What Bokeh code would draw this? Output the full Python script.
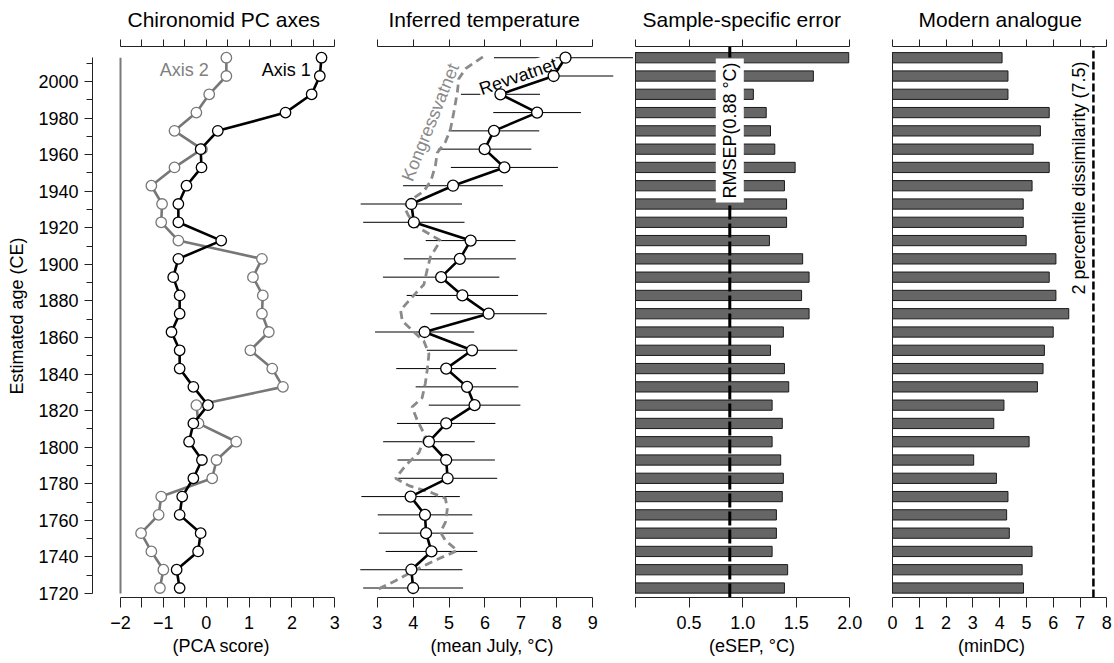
import math
from bokeh.plotting import figure
from bokeh.models import Range1d, LinearAxis, FixedTicker, CustomJSTickFormatter, Grid
from bokeh.layouts import row
from bokeh.embed import file_html
from bokeh.resources import INLINE
from bokeh.core.properties import value

FONT = "Liberation Sans"

# ---------------- data ----------------
years = [2013, 2003, 1993, 1983, 1973, 1963, 1953, 1943, 1933, 1923,
         1913, 1903, 1893, 1883, 1873, 1863, 1853, 1843, 1833, 1823,
         1813, 1803, 1793, 1783, 1773, 1763, 1753, 1743, 1733, 1723]
pc_axis1 = [2.69, 2.65, 2.46, 1.85, 0.27, -0.13, -0.11, -0.46, -0.65, -0.65,
            0.35, -0.65, -0.77, -0.62, -0.62, -0.81, -0.62, -0.62, -0.30, 0.04,
            -0.30, -0.40, -0.10, -0.30, -0.56, -0.62, -0.13, -0.19, -0.69, -0.62]
pc_axis2 = [0.47, 0.47, 0.07, -0.23, -0.74, -0.10, -0.74, -1.28, -1.03, -1.05,
            -0.65, 1.30, 1.09, 1.32, 1.30, 1.46, 1.03, 1.54, 1.79, -0.23,
            -0.18, 0.70, 0.24, 0.14, -1.05, -1.11, -1.52, -1.28, -1.00, -1.08]
rev_temp = [8.24, 7.91, 6.43, 7.45, 6.25, 5.99, 6.54, 5.11, 3.95, 4.02,
            5.60, 5.30, 4.78, 5.37, 6.10, 4.32, 5.64, 4.92, 5.50, 5.71,
            4.92, 4.44, 4.92, 4.96, 3.93, 4.33, 4.36, 4.51, 3.95, 4.00]
esep = [1.99, 1.66, 1.10, 1.22, 1.26, 1.30, 1.49, 1.39, 1.41, 1.41,
        1.25, 1.56, 1.62, 1.55, 1.62, 1.38, 1.26, 1.39, 1.43, 1.275,
        1.37, 1.275, 1.355, 1.38, 1.37, 1.315, 1.315, 1.275, 1.42, 1.39]
min_dc = [4.09, 4.31, 4.31, 5.85, 5.52, 5.25, 5.85, 5.21, 4.88, 4.88,
          4.99, 6.10, 5.85, 6.10, 6.58, 6.00, 5.67, 5.62, 5.41, 4.16,
          3.78, 5.10, 3.03, 3.88, 4.31, 4.26, 4.36, 5.21, 4.84, 4.89]
kong_years = [2013.5, 2007.0, 2001.5, 1994.0, 1983.0, 1974.0, 1967.0, 1961.0, 1954.0, 1946.0,
              1940.0, 1935.0, 1931.0, 1927.0, 1921.0, 1916.0, 1913.0, 1904.0, 1897.0, 1889.0,
              1882.0, 1875.0, 1869.0, 1864.0, 1858.0, 1851.0, 1842.0, 1835.0, 1827.0, 1822.0,
              1815.0, 1806.0, 1797.0, 1790.0, 1783.0, 1779.0, 1775.0, 1772.0, 1766.0, 1759.0,
              1753.5, 1749.0, 1743.5, 1739.0, 1733.0, 1727.0, 1722.5]
kong_temp = [5.94, 5.46, 5.27, 5.23, 5.13, 5.04, 4.90, 4.67, 4.62, 4.50,
             4.30, 3.92, 3.76, 3.86, 4.07, 4.50, 4.76, 4.48, 4.39, 4.30,
             3.97, 3.65, 3.70, 3.97, 4.30, 4.44, 4.39, 4.34, 4.25, 3.97,
             4.11, 4.34, 4.16, 3.79, 3.51, 3.88, 4.53, 4.90, 4.95, 4.90,
             4.76, 4.90, 5.23, 4.71, 4.07, 3.51, 3.04]
rmsep = 0.88
dissim_2pct = 7.5

pc_ticks = [-2, -1, 0, 1, 2, 3]
pc_minor = [-1.5, -0.5, 0.5, 1.5, 2.5]
temp_ticks = [3, 4, 5, 6, 7, 8, 9]
esep_ticks = [0, 0.5, 1.0, 1.5, 2.0]
dc_ticks = [0, 1, 2, 3, 4, 5, 6, 7, 8]
age_ticks = list(range(1720, 2001, 20))
age_minor = list(range(1730, 2011, 20))

# ---------------- layout constants ----------------
H = 660
TOP_B = 34
BOT_B = 63
Y0, Y1 = 1717.81, 2025.70
TOP_AXIS_Y = 2018.87
BAR_H = 5.6
AXIS_COL = "#222222"
GRAY = "#7a7a7a"


def base_fig(width, xr, left_border, title, title_offset):
    p = figure(width=width, height=H, x_range=Range1d(*xr), y_range=Range1d(Y0, Y1),
               output_backend="svg", toolbar_location=None,
               x_axis_location=None, y_axis_location=None,
               min_border_left=left_border, min_border_right=0,
               min_border_top=TOP_B, min_border_bottom=BOT_B, title=title)
    p.outline_line_color = None
    p.background_fill_color = "white"
    p.border_fill_color = "white"
    for g in p.select(type=Grid):
        g.visible = False
    p.title.align = "left"
    p.title.offset = title_offset
    p.title.text_font = FONT
    p.title.text_font_size = "21px"
    p.title.text_font_style = "normal"
    p.title.text_color = "black"
    p.title.standoff = 7
    return p


def style_axis(a):
    a.axis_line_color = AXIS_COL
    a.axis_line_width = 1
    a.major_tick_line_color = AXIS_COL
    a.minor_tick_line_color = AXIS_COL
    a.major_label_text_font = FONT
    a.major_label_text_font_size = "18px"
    a.major_label_text_color = "black"
    a.axis_label_text_font = FONT
    a.axis_label_text_font_size = "18px"
    a.axis_label_text_font_style = "normal"
    a.axis_label_text_color = "black"
    a.major_tick_in = 0
    a.minor_tick_in = 0


def add_x_axes(p, ticks, minor, bounds, label, formatter=None):
    b = LinearAxis(ticker=FixedTicker(ticks=ticks, minor_ticks=minor), bounds=bounds,
                   axis_label=label)
    style_axis(b)
    b.major_tick_out = 10
    b.minor_tick_out = 10
    b.major_label_standoff = 8
    b.axis_label_standoff = 4
    if formatter is not None:
        b.formatter = formatter
    p.add_layout(b, "below")
    t = LinearAxis(ticker=FixedTicker(ticks=ticks, minor_ticks=minor), bounds=bounds,
                   fixed_location=TOP_AXIS_Y)
    style_axis(t)
    t.major_tick_out = 7
    t.minor_tick_out = 7
    t.major_label_text_alpha = 0
    t.major_label_text_font_size = "1px"
    t.major_label_standoff = 0
    p.add_layout(t, "above")


def add_text(p, x, y, txt, color="black", angle=0.0, **kw):
    p.text(x=[x], y=[y], text=[txt], angle=angle, text_align="center",
           text_baseline="middle", text_font=value(FONT), text_font_size=value("18px"),
           text_color=color, **kw)


# ---------------- panel 1 : PC axes ----------------
p1 = base_fig(350, (-2.6533, 3.3663), 92, "Chironomid PC axes", 35)
add_x_axes(p1, pc_ticks, pc_minor, (-2, 3), "(PCA score)",
           CustomJSTickFormatter(code="return tick < 0 ? '\u2212' + Math.abs(tick) : String(tick);"))
ya = LinearAxis(ticker=FixedTicker(ticks=age_ticks, minor_ticks=age_minor),
                bounds=(1720, max(years)), axis_label="Estimated age (CE)")
style_axis(ya)
ya.major_tick_out = 8
ya.minor_tick_out = 6
ya.major_label_standoff = 6
ya.axis_label_standoff = 8
p1.add_layout(ya, "left")

p1.segment(x0=pc_ticks[0], y0=1720, x1=pc_ticks[0], y1=max(years), line_color=GRAY, line_width=2)
p1.line(pc_axis2, years, line_color="#777777", line_width=2.6)
p1.scatter(pc_axis2, years, size=10.5, fill_color="white", line_color="#777777", line_width=1.3)
p1.line(pc_axis1, years, line_color="black", line_width=2.6)
p1.scatter(pc_axis1, years, size=10.5, fill_color="white", line_color="black", line_width=1.3)
add_text(p1, -0.51, 2006.5, "Axis 2", color="#808080")
add_text(p1, 1.87, 2006.5, "Axis 1", color="black")

# ---------------- panel 2 : inferred temperature ----------------
p2 = base_fig(283, (2.2570, 10.1327), 0, "Inferred temperature", 38)
add_x_axes(p2, temp_ticks, [], (3, 9), "(mean July, \u00b0C)")
lo = [t - e for t, e in zip(rev_temp, esep)]
hi = [t + e for t, e in zip(rev_temp, esep)]
p2.segment(x0=lo, y0=years, x1=hi, y1=years, line_color="black", line_width=1)
p2.line(kong_temp, kong_years, line_color="#8a8a8a", line_width=2.8, line_dash="8 5")
add_text(p2, 6.92, 2002.8, "Revvatnet", color="black", angle=math.radians(19),
         background_fill_color="white", padding=1)
add_text(p2, 4.48, 1977.7, "Kongressvatnet", color="#8a8a8a", angle=math.radians(68))
p2.line(rev_temp, years, line_color="black", line_width=2.6)
p2.scatter(rev_temp, years, size=11, fill_color="white", line_color="black", line_width=1.3)

# ---------------- panel 3 : sample-specific error ----------------
p3 = base_fig(237, (-0.01867, 2.1932), 0, "Sample-specific error", 9)
add_x_axes(p3, esep_ticks, [], (0, 2), "(eSEP, \u00b0C)",
           CustomJSTickFormatter(code="return tick == 0 ? '' : tick.toFixed(1);"))
p3.hbar(y=years, left=0, right=esep, height=BAR_H, fill_color="#666666",
        line_color="#1a1a1a", line_width=1)
p3.segment(x0=0, y0=min(years) - 3, x1=0, y1=max(years) + 3, line_color=AXIS_COL, line_width=1)
p3.segment(x0=rmsep, y0=Y0, x1=rmsep, y1=TOP_AXIS_Y, line_color="black", line_width=3,
           line_dash="14 4")
add_text(p3, rmsep, 1973.2, "RMSEP(0.88 \u00b0C)", color="black", angle=math.pi / 2,
         background_fill_color="white", padding=4)

# ---------------- panel 4 : modern analogue ----------------
p4 = base_fig(242, (-0.8212, 8.2120), 0, "Modern analogue", 48)
add_x_axes(p4, dc_ticks, [], (0, 8), "(minDC)")
p4.hbar(y=years, left=0, right=min_dc, height=BAR_H, fill_color="#666666",
        line_color="#1a1a1a", line_width=1)
p4.segment(x0=0, y0=min(years) - 3, x1=0, y1=max(years) + 3, line_color=AXIS_COL, line_width=1)
p4.segment(x0=dissim_2pct, y0=Y0, x1=dissim_2pct, y1=TOP_AXIS_Y, line_color="black",
           line_width=2.5, line_dash="8 3")
add_text(p4, 6.95, 1947.2, "2 percentile dissimilarity (7.5)", color="black", angle=math.pi / 2)

layout = row(p1, p2, p3, p4, spacing=0)
open("out.html", "w").write(file_html(layout, INLINE))
